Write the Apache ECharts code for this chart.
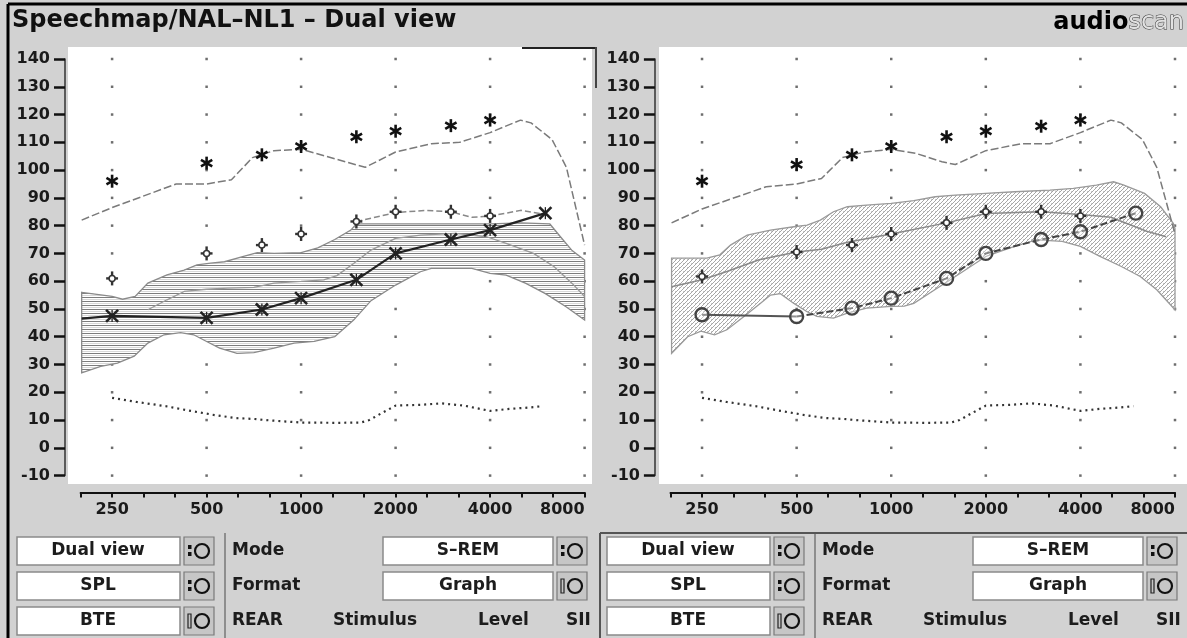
<!DOCTYPE html>
<html><head><meta charset="utf-8">
<script src="https://cdn.jsdelivr.net/npm/echarts@6/dist/echarts.min.js"></script>
<style>html,body{margin:0;padding:0;background:#d2d2d2}#c{width:1187px;height:638px}</style>
</head><body><div id="c"></div>
<script>
// ---------- DATA ----------
const titleText = 'Speechmap/NAL–NL1 – Dual view';
const xTickFreqs = [250, 500, 1000, 2000, 4000, 8000];
const xTickLabels = ['250', '500', '1000', '2000', '4000', '8000'];
const yTicks = [-10, 0, 10, 20, 30, 40, 50, 60, 70, 80, 90, 100, 110, 120, 130, 140];

const markerFreqs = [250, 500, 750, 1000, 1500, 2000, 3000, 4000];
const leftUCL  = [96, 102.5, 105.5, 108.5, 112, 114, 116, 118];
const rightUCL = [96, 102, 105.5, 108.5, 112, 114, 115.8, 118];
const leftLoud  = [61, 70, 73, 77, 81.5, 85, 85, 83.5];
const rightLoud = [61.7, 70.5, 73, 77, 81, 85, 85, 83.5];

const avgFreqs = [250, 500, 750, 1000, 1500, 2000, 3000, 4000, 6000];
const leftAvg  = [47.5, 46.8, 49.8, 53.9, 60.5, 70, 75, 78.4, 84.5];
const rightAvg = [47.9, 47.3, 50.3, 53.9, 61, 70, 75, 77.8, 84.5];
const leftAvgLine = [[200,46.5],[250,47.5],[500,46.8],[750,49.8],[1000,53.9],[1500,60.5],[2000,70],[3000,75],[4000,78.4],[6000,84.5]];
const rightAvgSolid = [[250,47.9],[500,47.3]];
const rightAvgDash = [[500,47.3],[750,50.3],[1000,53.9],[1500,61],[2000,70],[3000,75],[4000,77.8],[6000,84.5]];

const leftMaxOut = [[200,82],[250,86.5],[400,95],[500,95],[600,96.5],[700,104.5],[820,107],[1000,107.5],[1200,105],[1600,101],[2000,106.5],[2600,109.5],[3200,110],[4000,113.5],[5000,118],[5400,117],[6300,111],[7000,101],[8000,73]];
const rightMaxOut = [[200,81],[250,86],[400,94],[500,95],[600,97],[700,104.5],[820,106.5],[1000,107.5],[1200,106],[1450,103],[1600,102],[2000,107],[2600,109.5],[3200,109.5],[4000,113.5],[5000,118],[5400,117],[6300,111],[7000,101],[8000,77]];

const threshold = [[250,18],[300,16.5],[370,15],[445,13.3],[530,11.8],[620,10.7],[705,10.4],[790,9.9],[1000,9.1],[1300,9],[1550,9.1],[1650,10],[1800,12.4],[2000,15.2],[2400,15.5],[2800,16],[3300,15.2],[4000,13.3],[4600,14],[5300,14.5],[5900,15]];

const leftLoudLine = [[1500,81.5],[2000,84.7],[2500,85.5],[3000,85],[3500,83],[4000,83.5],[4500,84.5],[5000,85.5],[6000,84]];
const rightLoudLine = [[200,58],[250,60.5],[300,63.5],[380,67.7],[500,70.5],[600,71.5],[725,74],[1000,77],[1500,81],[2000,84.4],[3000,85],[4000,84],[5000,83],[6500,78],[7500,76]];

const leftBandUpper = [[200,56],[250,54.5],[270,53.5],[296,54.5],[325,59.3],[374,62.3],[424,64],[466,65.9],[515,66.5],[570,67],[660,69],[725,70.3],[820,70],[1000,70.3],[1130,72],[1280,75],[1440,78.4],[1500,80.6],[2000,80.6],[3000,80.6],[4000,80.6],[5000,81],[6200,80.6],[6700,76],[7300,71],[8000,67.6]];
const leftBandLower = [[200,27],[230,29.3],[260,30.5],[294,33],[325,37.7],[366,40.7],[413,41.5],[455,40.7],[500,38.3],[550,35.9],[625,34],[707,34.3],[820,35.9],[950,37.7],[1100,38.3],[1280,40],[1470,46],[1670,53],[2000,58.6],[2400,63.4],[2600,64.6],[3500,64.6],[4000,62.8],[4500,62.2],[5200,59.2],[6000,55.5],[7000,50.7],[8000,46]];
const leftInnerLine = [[325,49.7],[374,53.3],[424,56.3],[500,57.1],[583,57.5],[707,57.8],[820,59.3],[1000,59.9],[1180,60.5],[1300,62],[1470,66.4],[1670,71.2],[2000,75.4],[2400,76.6],[3100,77.2],[3900,76],[4500,73.6],[5500,70],[6400,65.2],[7300,59.2],[8000,54.5]];

const rightBandUpper = [[200,68.3],[259,68.3],[285,69.5],[308,73],[348,76.6],[413,78.4],[490,79.6],[540,80.2],[595,82],[655,85],[725,86.8],[835,87.4],[1000,88],[1180,89],[1380,90.4],[1600,91],[2000,91.6],[2470,92.2],[3200,92.8],[3800,93.4],[4500,94.6],[5100,95.8],[5500,94.6],[6400,91.6],[7200,86.8],[7900,80.8],[8000,79]];
const rightBandLower = [[200,34],[225,40],[248,42],[274,40.7],[300,42.5],[340,47.3],[383,52],[413,55],[444,55.5],[490,52],[540,49],[580,47.3],[655,46.7],[725,48.5],[835,50.3],[1000,50.9],[1100,51],[1180,52],[1380,57],[1600,61.7],[2000,68.9],[2470,72.5],[2900,74.9],[3500,74.3],[4000,72.5],[4600,69],[5400,65.3],[6200,61.7],[7000,56.9],[8000,49.7]];

const ctrlBoxA = ['Dual view', 'SPL', 'BTE'];
const ctrlBoxB = ['S–REM', 'Graph'];
const ctrlLabels = ['Mode', 'Format'];
const ctrlRow3 = ['REAR', 'Stimulus', 'Level', 'SII'];

// ---------- HELPERS ----------
const FONT = 'DejaVu Sans';
const oct3 = f => 3 * Math.log2(f / 250);   // third-octave position on the value axis
const pts = arr => arr.map(p => [oct3(p[0]), p[1]]);

function hatchH() {
  const c = document.createElement('canvas'); c.width = 8; c.height = 4;
  const g = c.getContext('2d'); g.fillStyle = '#ffffff'; g.fillRect(0, 0, 8, 4);
  g.fillStyle = '#7c7c7c'; g.fillRect(0, 1, 8, 1);
  g.fillStyle = '#d8d8d8'; g.fillRect(0, 3, 8, 1);
  return c;
}
function hatchD() {
  const c = document.createElement('canvas'); c.width = 4; c.height = 4;
  const g = c.getContext('2d'); g.fillStyle = '#ffffff'; g.fillRect(0, 0, 4, 4);
  g.fillStyle = '#a6a6a6';
  for (let i = 0; i < 4; i++) g.fillRect(i, 3 - i, 1, 1);
  g.fillStyle = '#c8c8c8'; g.fillRect(3, 3, 1, 1);
  return c;
}

function lineSeries(gi, data, color, width, type, z) {
  return { type: 'line', xAxisIndex: gi, yAxisIndex: gi, data: pts(data), showSymbol: false,
    symbol: 'none', silent: true, z: z || 4, animation: false,
    lineStyle: { color: color, width: width, type: type || 'solid' } };
}

function bandSeries(gi, upper, lower, canvas, stroke) {
  const verts = pts(upper).concat(pts(lower).reverse());
  return { type: 'custom', xAxisIndex: gi, yAxisIndex: gi, coordinateSystem: 'cartesian2d',
    data: verts, silent: true, z: 2, animation: false,
    renderItem: function (params, api) {
      if (params.dataIndex !== 0) return null;
      const p = verts.map(v => api.coord(v));
      return { type: 'polygon', shape: { points: p },
        style: { fill: { image: canvas, repeat: 'repeat' }, stroke: stroke, lineWidth: 1.3 } };
    } };
}

function markerShapes(kind, s, color) {
  const L = (x1, y1, x2, y2, w) => ({ type: 'line', shape: { x1, y1, x2, y2 }, style: { stroke: color, lineWidth: w } });
  if (kind === 'asterisk') return [L(0, -s, 0, s, 2.6), L(-s * 0.87, -s * 0.5, s * 0.87, s * 0.5, 2.6), L(-s * 0.87, s * 0.5, s * 0.87, -s * 0.5, 2.6)];
  if (kind === 'plus') return [L(0, -s, 0, s, 2.4), L(-s * 0.85, 0, s * 0.85, 0, 2.4),
    { type: 'circle', shape: { cx: 0, cy: 0, r: 3 }, style: { fill: '#fff', stroke: color, lineWidth: 1.5 } }];
  if (kind === 'x') return [L(-s, -s, s, s, 2.6), L(-s, s, s, -s, 2.6), L(0, -s, 0, s, 1.3)];
  return [{ type: 'circle', shape: { cx: 0, cy: 0, r: s }, style: { fill: 'rgba(255,255,255,0.35)', stroke: color, lineWidth: 2.4 } }];
}
function markerSeries(gi, freqs, vals, kind, color, s) {
  return { type: 'custom', xAxisIndex: gi, yAxisIndex: gi, coordinateSystem: 'cartesian2d',
    data: freqs.map((f, i) => [oct3(f), vals[i]]), silent: true, z: 10, animation: false,
    renderItem: function (params, api) {
      const p = api.coord([api.value(0), api.value(1)]);
      return { type: 'group', x: p[0], y: p[1], children: markerShapes(kind, s, color) };
    } };
}

function gridDots(gi) {
  const d = [];
  xTickFreqs.forEach(f => yTicks.forEach(y => d.push([oct3(f), y])));
  return { type: 'scatter', xAxisIndex: gi, yAxisIndex: gi, data: d, symbol: 'rect', symbolSize: 2.5,
    itemStyle: { color: '#4a4a4a' }, silent: true, z: 1, animation: false };
}

function xLabel(v) {
  const r = Math.round(v);
  if (Math.abs(v - r) > 1e-6 || r % 3 !== 0) return '';
  return xTickLabels[r / 3] || '';
}

const grids = [
  { left: 80.6, right: 602.4, top: 59, bottom: 162.4 },
  { left: 670.5, right: 12, top: 59, bottom: 162.4 }
];
const xAxes = [0, 1].map(i => ({
  gridIndex: i, type: 'value', min: -1, max: 15, interval: 1, offset: 17,
  axisLine: { show: true, onZero: false, lineStyle: { color: '#111', width: 2 } },
  axisTick: { show: true, length: 5, lineStyle: { color: '#111', width: 2 } },
  axisLabel: { formatter: xLabel, fontFamily: FONT, fontWeight: 'bold', fontSize: 16, color: '#1a1a1a', margin: 9, alignMaxLabel: 'right' },
  splitLine: { show: false }
}));
const yAxes = [0, 1].map(i => ({
  gridIndex: i, type: 'value', min: -10, max: 140, interval: 10, offset: 15.6,
  axisLine: { show: true, onZero: false, lineStyle: { color: '#333', width: 1.5 } },
  axisTick: { show: true, length: 11, lineStyle: { color: '#111', width: 2.5 } },
  axisLabel: { fontFamily: FONT, fontWeight: 'bold', fontSize: 16, color: '#1a1a1a', margin: 15 },
  splitLine: { show: false }
}));

const series = [
  gridDots(0), gridDots(1),
  bandSeries(0, leftBandUpper, leftBandLower, hatchH(), '#8a8a8a'),
  bandSeries(1, rightBandUpper, rightBandLower, hatchD(), '#9a9a9a'),
  lineSeries(0, leftInnerLine, '#9a9a9a', 1.3, 'solid', 3),
  lineSeries(0, leftMaxOut, '#7a7a7a', 1.5, [8, 3]),
  lineSeries(1, rightMaxOut, '#7a7a7a', 1.5, [8, 3]),
  lineSeries(0, threshold, '#333', 2.2, [2, 4]),
  lineSeries(1, threshold, '#333', 2.2, [2, 4]),
  lineSeries(0, leftLoudLine, '#888', 1.5, [6, 3]),
  lineSeries(1, rightLoudLine, '#8a8a8a', 1.5, 'solid'),
  lineSeries(0, leftAvgLine, '#222', 2.2, 'solid', 5),
  lineSeries(1, rightAvgSolid, '#555', 2, 'solid', 5),
  lineSeries(1, rightAvgDash, '#444', 2, [7, 3], 5),
  markerSeries(0, markerFreqs, leftUCL, 'asterisk', '#111', 6.5),
  markerSeries(1, markerFreqs, rightUCL, 'asterisk', '#111', 6.5),
  markerSeries(0, markerFreqs, leftLoud, 'plus', '#333', 7),
  markerSeries(1, markerFreqs, rightLoud, 'plus', '#333', 7),
  markerSeries(0, avgFreqs, leftAvg, 'x', '#222', 6),
  markerSeries(1, avgFreqs, rightAvg, 'circle', '#444', 6.5)
];

// ---------- DECORATION (panel chrome / controls) ----------
function controls(ox) {
  const els = [];
  const rows = [537, 572, 607], h = 28;
  const txt = (x, y, s, align) => ({ type: 'text', z: 50, x: x, y: y,
    style: { text: s, fontFamily: FONT, fontWeight: 'bold', fontSize: 17, fill: '#1c1c1c', align: align || 'center', verticalAlign: 'middle' } });
  const box = (x, y, w) => ({ type: 'rect', z: 40, shape: { x: x, y: y, width: w, height: h },
    style: { fill: '#ffffff', stroke: '#8a8a8a', lineWidth: 1.5 } });
  const btn = (x, y, bars) => {
    const a = [
      { type: 'rect', z: 40, shape: { x: x, y: y, width: 30, height: h }, style: { fill: '#c6c6c6', stroke: '#7a7a7a', lineWidth: 1.2 } },
      { type: 'circle', z: 45, shape: { cx: x + 18, cy: y + h / 2, r: 7 }, style: { fill: 'none', stroke: '#111', lineWidth: 2.2 } }
    ];
    if (bars) a.push({ type: 'rect', z: 45, shape: { x: x + 4, y: y + 7, width: 3, height: 14 }, style: { fill: 'none', stroke: '#222', lineWidth: 1.2 } });
    else {
      a.push({ type: 'rect', z: 45, shape: { x: x + 4, y: y + 8, width: 3.5, height: 4 }, style: { fill: '#111' } });
      a.push({ type: 'rect', z: 45, shape: { x: x + 4, y: y + 15, width: 3.5, height: 4 }, style: { fill: '#111' } });
    }
    return a;
  };
  ctrlBoxA.forEach((s, i) => { els.push(box(ox + 17, rows[i], 163)); els.push(txt(ox + 98, rows[i] + h / 2, s)); els.push(...btn(ox + 184, rows[i], i === 2)); });
  ctrlBoxB.forEach((s, i) => { els.push(box(ox + 383, rows[i], 170)); els.push(txt(ox + 468, rows[i] + h / 2, s)); els.push(...btn(ox + 557, rows[i], i === 1)); });
  ctrlLabels.forEach((s, i) => els.push(txt(ox + 232, rows[i] + h / 2, s, 'left')));
  const r3x = [232, 333, 478, 566];
  ctrlRow3.forEach((s, i) => els.push(txt(ox + r3x[i], rows[2] + h / 2, s, 'left')));
  els.push({ type: 'line', z: 40, shape: { x1: ox + 225, y1: 533, x2: ox + 225, y2: 638 }, style: { stroke: '#777', lineWidth: 1.5 } });
  return els;
}

const graphic = [
  { type: 'rect', z: -5, shape: { x: 68, y: 47, width: 524, height: 437 }, style: { fill: '#ffffff' } },
  { type: 'rect', z: -5, shape: { x: 659, y: 47, width: 528, height: 437 }, style: { fill: '#ffffff' } },
  { type: 'line', z: 60, shape: { x1: 8, y1: 4, x2: 1187, y2: 4 }, style: { stroke: '#000', lineWidth: 3 } },
  { type: 'line', z: 60, shape: { x1: 8, y1: 4, x2: 8, y2: 638 }, style: { stroke: '#000', lineWidth: 3 } },
  { type: 'line', z: 60, shape: { x1: 522, y1: 48, x2: 596, y2: 48 }, style: { stroke: '#222', lineWidth: 2 } },
  { type: 'line', z: 60, shape: { x1: 596, y1: 47, x2: 596, y2: 88 }, style: { stroke: '#444', lineWidth: 2 } },
  { type: 'line', z: 60, shape: { x1: 600, y1: 533, x2: 1187, y2: 533 }, style: { stroke: '#555', lineWidth: 2 } },
  { type: 'line', z: 60, shape: { x1: 600, y1: 533, x2: 600, y2: 638 }, style: { stroke: '#555', lineWidth: 2 } },
  { type: 'text', z: 60, x: 12, y: 21, style: { text: titleText, fontFamily: FONT, fontWeight: 'bold', fontSize: 24, fill: '#111', verticalAlign: 'middle' } },
  { type: 'text', z: 60, x: 1184, y: 23, style: { text: '{a|audio}{b|scan}', align: 'right', verticalAlign: 'middle',
      rich: { a: { fontFamily: FONT, fontWeight: 'bold', fontSize: 24, fill: '#000' },
              b: { fontFamily: FONT, fontWeight: 'normal', fontSize: 24, fill: '#e2e2e2', stroke: '#333', lineWidth: 1 } } } }
].concat(controls(0), controls(590));

const chart = echarts.init(document.getElementById('c'), null, { renderer: 'canvas' });
chart.setOption({
  backgroundColor: '#d2d2d2',
  animation: false,
  grid: grids,
  xAxis: xAxes,
  yAxis: yAxes,
  series: series,
  graphic: graphic
});
</script></body></html>
